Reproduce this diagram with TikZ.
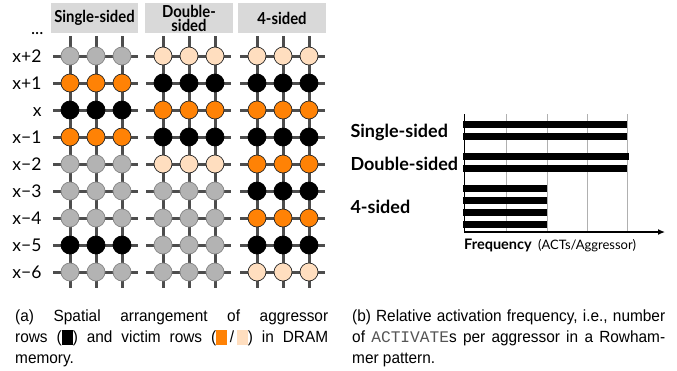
\documentclass[tikz,border=0pt]{standalone}
\usepackage{fontspec}
\usepackage{xcolor}
\usepackage{tikz}
\usetikzlibrary{arrows.meta,positioning,calc}
\setmainfont{Lato}
\newfontfamily\headfont[FakeStretch=0.9]{Lato}
\newfontfamily\capfont[FakeStretch=0.95]{Liberation Sans}
\newfontfamily\actfont{Liberation Mono}
\definecolor{rowwire}{HTML}{4D4D4D}
\definecolor{rowidle}{HTML}{B3B3B3}
\definecolor{rowidleedge}{HTML}{858585}
\definecolor{vicnear}{HTML}{FF8205}
\definecolor{vicfar}{HTML}{FFDEBF}
\definecolor{headfill}{HTML}{D9D9D9}
\definecolor{freqgrid}{HTML}{B0B0B0}
\definecolor{acttext}{HTML}{555555}

\tikzset{
  cell/.style={circle,minimum size=18pt,inner sep=0pt,line width=0.7pt},
  idle/.style={cell,fill=rowidle,draw=rowidleedge},
  near/.style={cell,fill=vicnear,draw=black!85},
  far/.style={cell,fill=vicfar,draw=black!85},
  aggr/.style={cell,fill=black,draw=black},
  wire/.style={rowwire,line width=3pt},
  head/.style={fill=headfill,minimum height=30pt,inner sep=0pt,align=center,
    font=\headfont\bfseries\fontsize{16.5}{14}\selectfont},
  rowlab/.style={anchor=base east,font=\fontsize{17.5}{17.5}\selectfont},
  patlab/.style={anchor=base west,font=\bfseries\fontsize{18}{18}\selectfont},
  caption/.style={anchor=north west,text width=313pt,align=justify,inner sep=0pt,
    font=\capfont\fontsize{16.2}{21}\selectfont},
}

\begin{document}
\begin{tikzpicture}[x=1pt,y=-1pt]
  \useasboundingbox (0,0) rectangle (677,370);

  \node[head,minimum width=87pt] (hsingle) at (94.5,18) {Single-sided};
  \node[head,minimum width=88pt] (hdouble) at (189,18) {Double-\\sided};
  \node[head,minimum width=88pt] (hfour) at (282,18) {4-sided};

  \foreach \px/\pat [count=\p] in {70/{idle,near,aggr,near,idle,idle,idle,aggr,idle},
      163/{far,aggr,near,aggr,far,idle,idle,idle,idle},
      257/{far,aggr,near,aggr,near,aggr,near,aggr,far}} {
    \foreach \r in {0,...,8}
      \draw[wire] (\px-17,56+27*\r) -- (\px+68,56+27*\r);
    \foreach \cc in {0,1,2}
      \draw[wire] (\px+26*\cc,36) -- (\px+26*\cc,288);
    \foreach \st [count=\r from 0] in \pat
      \foreach \cc in {0,1,2}
        \node[\st] (c\p-\r-\cc) at (\px+26*\cc,56+27*\r) {};
  }

  \node[rowlab] (ldots) at (47,34) {...};
  \foreach \lab [count=\r from 0] in {x+2,x+1,x,x−1,x−2,x−3,x−4,x−5,x−6}
    \node[rowlab] (lab\r) at (45,62+27*\r) {\lab};

  \coordinate (org) at (464,232);
  \coordinate (ytop) at (464,114);
  \coordinate (xend) at (665,232);
  \foreach \gx in {506,547,587,627}
    \draw[freqgrid,line width=0.8pt] (\gx,114) -- (\gx,232);
  \foreach \by/\bx in {124/627,136/627,156/629,168/627,188/547,200/547,212/547,224/547}
    \fill (463,\by-3.5) rectangle (\bx,\by+3.5);
  \draw[line width=0.6pt] (ytop) -- (org);
  \draw[line width=1.3pt,-{Latex[length=7pt,width=6pt]}] (org) -- (xend);

  \node[patlab] (psingle) at (347,137) {Single-sided};
  \node[patlab] (pdouble) at (347,170) {Double-sided};
  \node[patlab] (pfour) at (347,213) {4-sided};
  \node[anchor=base west,inner sep=0pt,font=\bfseries\fontsize{14.5}{14.5}\selectfont] (freq) at (464,249) {Frequency};
  \node[right=6pt of freq.base east,anchor=base west,inner sep=0pt,font=\fontsize{13}{13}\selectfont] (unit) {(ACTs/Aggressor)};

  \node[caption] (capa) at (15,310) {(a) Spatial arrangement of aggressor\linebreak
    rows (\textcolor{black}{\rule[-2.5pt]{11pt}{15pt}}) and victim rows
    (\textcolor{vicnear}{\rule[-2.5pt]{11pt}{15pt}}\,/\,\textcolor{vicfar}{\rule[-2.5pt]{11pt}{15pt}}) in DRAM\linebreak
    memory.};
  \node[caption] (capb) at (352,310) {(b) Relative activation frequency, i.e., number\linebreak
    of {\actfont\color{acttext}ACTIVATE}s per aggressor in a Rowham-\linebreak
    mer pattern.};
\end{tikzpicture}
\end{document}
